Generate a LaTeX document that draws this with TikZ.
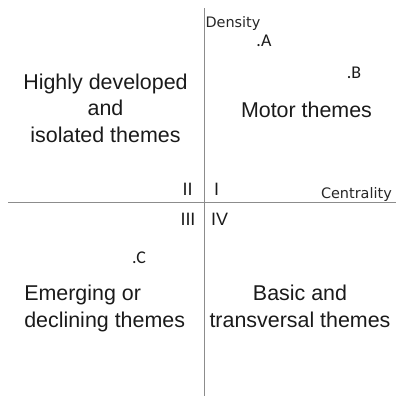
\documentclass[tikz,border=0pt]{standalone}
\usepackage{fontspec}
\setmainfont{Liberation Sans}
\newfontfamily\axisfont{DejaVu Sans}
\newfontfamily\pointfont{Carlito}
\definecolor{AxisGray}{HTML}{8C8C8C}
\definecolor{LabelInk}{HTML}{1A1A1A}

\begin{document}
\begin{tikzpicture}[x=1bp,y=-1bp,
  every node/.style={inner sep=0pt,outer sep=0pt,text=LabelInk},
  axisline/.style={draw=AxisGray,line width=1.5bp},
  quadlabel/.style={anchor=base,align=center,font=\fontsize{21.5}{26.5}\selectfont},
  numeral/.style={anchor=base,font=\fontsize{18}{20}\selectfont},
  axislabel/.style={anchor=base west,font=\axisfont\fontsize{14.5}{16}\selectfont,text=black!85},
  pointlabel/.style={anchor=base,font=\pointfont\fontsize{18}{20}\selectfont}]
  \useasboundingbox (0,0) rectangle (396,396);
  % axes
  \coordinate (ytop) at (204.5,8);
  \coordinate (ybottom) at (204.5,396);
  \coordinate (xleft) at (8,202.5);
  \coordinate (xright) at (396,202.5);
  \draw[axisline] (ytop) -- (ybottom);
  \draw[axisline] (xleft) -- (xright);
  \node[axislabel] (density) at (205.5,27.5) {Density};
  \node[axislabel] (centrality) at (321,198) {Centrality};
  % quadrant numbers
  \node[numeral] (qII) at (187.5,195) {II};
  \node[numeral] (qI) at (216.5,195) {I};
  \node[numeral] (qIII) at (188,225) {III};
  \node[numeral] (qIV) at (219.5,225) {IV};
  % themes (base = last line)
  \node[quadlabel] (isolated) at (105.5,142) {Highly developed\\and\\isolated themes};
  \node[quadlabel] (motor) at (306.5,117) {Motor themes};
  \node[quadlabel,align=left,anchor=base west] (emerging) at (24.3,327) {Emerging or\\declining themes};
  \node[quadlabel] (basic) at (300,327) {Basic and\\transversal themes};
  % clusters
  \node[pointlabel] (ptA) at (264,46) {.A};
  \node[pointlabel] (ptB) at (354,78) {.B};
  \node[pointlabel] (ptC) at (139,263) {.C};
\end{tikzpicture}
\end{document}
